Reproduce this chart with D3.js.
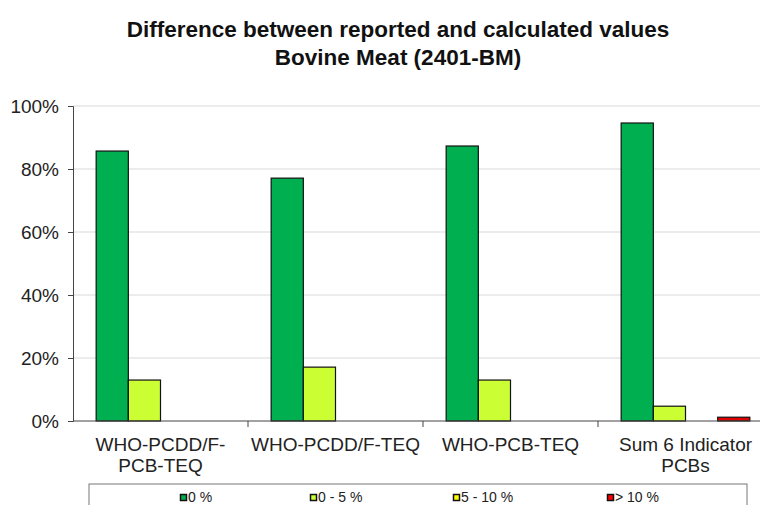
<!DOCTYPE html>
<html>
<head>
<meta charset="utf-8">
<script src="https://cdn.jsdelivr.net/npm/d3@7"></script>
<style>
  body { margin: 0; background: #fff; }
  svg { font-family: "Liberation Sans", Arial, sans-serif; }
</style>
</head>
<body>
<svg id="chart" width="760" height="505"></svg>
<script>
// chart data
const categories = [['WHO-PCDD/F-', 'PCB-TEQ'], ['WHO-PCDD/F-TEQ'], ['WHO-PCB-TEQ'], ['Sum 6 Indicator', 'PCBs']]
const seriesNames = ['0 %', '0 - 5 %', '5 - 10 %', '> 10 %']
const seriesColors = ['#00b050', '#ccff33', '#ffff00', '#ff0000']
const values = [
  [85.7, 13.0, 0, 0],
  [77.1, 17.1, 0, 0],
  [87.3, 13.0, 0, 0],
  [94.6, 4.7, 0, 1.2]
]
const yTicks = [0, 20, 40, 60, 80, 100]

const svg = d3.select('#chart')
const margin = { left: 73, top: 106, right: 773, bottom: 421 }

svg.append('text')
  .attr('x', 398).attr('y', 37)
  .attr('text-anchor', 'middle')
  .style('font-size', '22.5px').style('font-weight', 'bold').style('fill', '#111')
  .text('Difference between reported and calculated values')
svg.append('text')
  .attr('x', 398).attr('y', 65)
  .attr('text-anchor', 'middle')
  .style('font-size', '22.5px').style('font-weight', 'bold').style('fill', '#111')
  .text('Bovine Meat (2401-BM)')

const x = d3.scaleBand()
  .domain(d3.range(categories.length))
  .range([margin.left, margin.right])

const inner = d3.scaleBand()
  .domain(d3.range(seriesNames.length))
  .range([0, x.bandwidth()])
  .paddingOuter(0.72)

const y = d3.scaleLinear().domain([0, 100]).range([margin.bottom, margin.top])

// gridlines
svg.append('g')
  .selectAll('line')
  .data(yTicks.slice(1))
  .join('line')
  .attr('x1', margin.left).attr('x2', margin.right)
  .attr('y1', d => y(d)).attr('y2', d => y(d))
  .style('stroke', '#d9d9d9').style('stroke-width', 1)

// y axis
const yAxis = svg.append('g')
  .attr('transform', `translate(${margin.left},0)`)
  .call(d3.axisLeft(y).tickValues(yTicks).tickSize(5).tickPadding(9).tickFormat(d => d + '%'))
yAxis.select('.domain').style('stroke', '#444')
yAxis.selectAll('.tick line').style('stroke', '#444')
yAxis.selectAll('.tick text').style('font-size', '19px').style('fill', '#222')

// bars
const groups = svg.append('g')
  .selectAll('g')
  .data(values)
  .join('g')
  .attr('transform', (d, i) => `translate(${x(i)},0)`)

groups.selectAll('rect')
  .data(d => d.map((v, j) => ({ v, j })).filter(e => e.v > 0))
  .join('rect')
  .attr('x', e => inner(e.j))
  .attr('width', inner.bandwidth())
  .attr('y', e => y(e.v))
  .attr('height', e => y(0) - y(e.v))
  .style('fill', e => e.j === 3 ? '#e00000' : seriesColors[e.j])
  .style('stroke', '#111').style('stroke-width', 1.2)

// x axis
const xAxisG = svg.append('g').attr('transform', `translate(0,${margin.bottom})`)
xAxisG.append('line')
  .attr('x1', margin.left).attr('x2', margin.right)
  .style('stroke', '#444')
xAxisG.selectAll('line.tick')
  .data(d3.range(1, categories.length))
  .join('line')
  .attr('class', 'tick')
  .attr('x1', i => x(i)).attr('x2', i => x(i))
  .attr('y1', 0).attr('y2', 6)
  .style('stroke', '#444')

xAxisG.selectAll('text')
  .data(categories)
  .join('text')
  .attr('text-anchor', 'middle')
  .attr('transform', (d, i) => `translate(${x(i) + x.bandwidth() / 2},0)`)
  .style('font-size', '19px').style('fill', '#222')
  .selectAll('tspan')
  .data(d => d)
  .join('tspan')
  .attr('x', 0)
  .attr('y', (d, k) => 30 + k * 21)
  .text(d => d)

// legend
const legend = svg.append('g')
legend.append('rect')
  .attr('x', 89).attr('y', 484).attr('width', 658).attr('height', 30)
  .style('fill', '#fff').style('stroke', '#777').style('stroke-width', 1)

const legendX = [180, 310, 453, 607]
const items = legend.selectAll('g.item')
  .data(seriesNames)
  .join('g')
  .attr('class', 'item')
  .attr('transform', (d, i) => `translate(${legendX[i]},502)`)
items.append('rect')
  .attr('x', 0.5).attr('y', -7.5).attr('width', 6).attr('height', 6)
  .style('fill', (d, i) => seriesColors[i])
  .style('stroke', '#111').style('stroke-width', 1.5)
items.append('text')
  .attr('x', 8).attr('y', 0)
  .style('font-size', '14px').style('fill', '#222')
  .text(d => d)
</script>
</body>
</html>
